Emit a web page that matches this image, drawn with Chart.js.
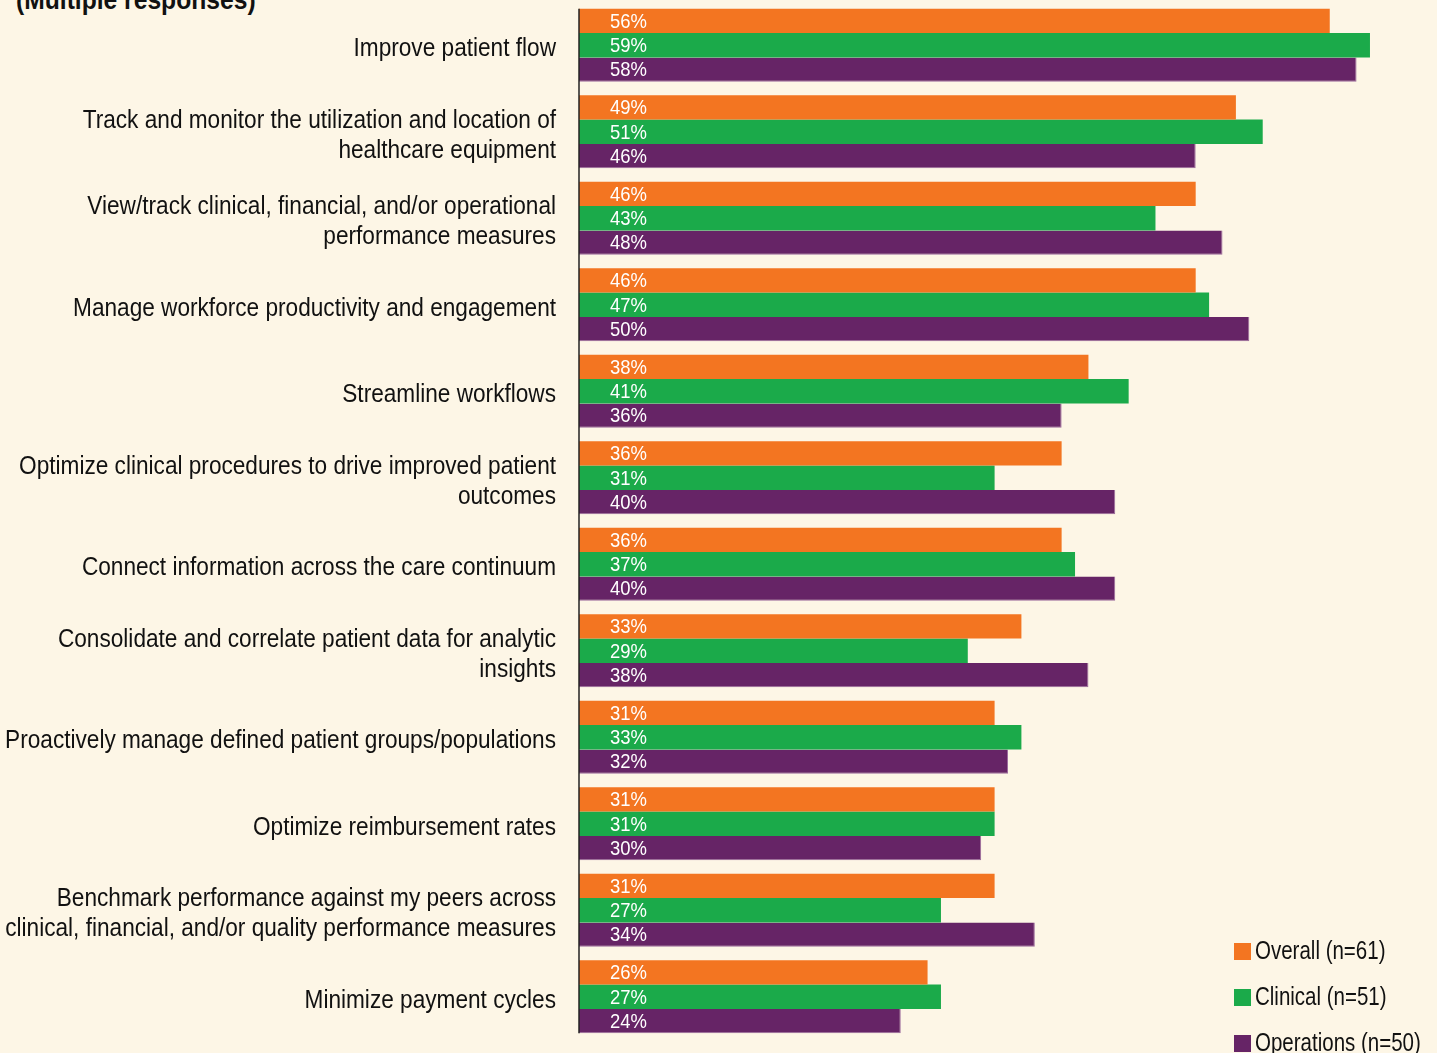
<!DOCTYPE html>
<html>
<head>
<meta charset="utf-8">
<script src="https://cdn.jsdelivr.net/npm/chart.js@4/dist/chart.umd.min.js"></script>
<style>
  html, body { margin: 0; padding: 0; background: #fdf6e6; }
  #wrap { position: relative; width: 1437px; height: 1053px; overflow: hidden; }
  #title {
    position: absolute; left: 16px; top: -16px; line-height: 27px;
    font: bold 28px 'Liberation Sans', Arial, sans-serif;
    color: #111; white-space: nowrap;
    transform: scaleX(0.88); transform-origin: left top;
  }
  canvas { position: absolute; left: 0; top: 0; }
</style>
</head>
<body>
<div id="wrap">
  <div id="title">(Multiple responses)</div>
  <canvas id="chart" width="1437" height="1053"></canvas>
</div>
<script>
// categories (multi-line labels)
var categories = [
    ['Improve patient flow'],
    ['Track and monitor the utilization and location of', 'healthcare equipment'],
    ['View/track clinical, financial, and/or operational', 'performance measures'],
    ['Manage workforce productivity and engagement'],
    ['Streamline workflows'],
    ['Optimize clinical procedures to drive improved patient', 'outcomes'],
    ['Connect information across the care continuum'],
    ['Consolidate and correlate patient data for analytic', 'insights'],
    ['Proactively manage defined patient groups/populations'],
    ['Optimize reimbursement rates'],
    ['Benchmark performance against my peers across', 'clinical, financial, and/or quality performance measures'],
    ['Minimize payment cycles']
];

var seriesNames = ['Overall (n=61)', 'Clinical (n=51)', 'Operations (n=50)'];
var overall    = [56, 49, 46, 46, 38, 36, 36, 33, 31, 31, 31, 26];
var clinical   = [59, 51, 43, 47, 41, 31, 37, 29, 33, 31, 27, 27];
var operations = [58, 46, 48, 50, 36, 40, 40, 38, 32, 30, 34, 24];

var colors = ['#f37521', '#1baa4a', '#662466'];
var FONT = "'Liberation Sans', Arial, sans-serif";

// condensed look: draw text squeezed horizontally
function narrowText(ctx, text, x, y, sx, align) {
    ctx.save();
    ctx.translate(x, y);
    ctx.scale(sx, 1);
    ctx.textAlign = align;
    ctx.fillText(text, 0, 0);
    ctx.restore();
}

// category labels, placed with the y scale
var categoryLabels = {
    id: 'categoryLabels',
    afterDraw: function(chart) {
        var ctx = chart.ctx;
        var yScale = chart.scales.y;
        ctx.save();
        ctx.fillStyle = '#111';
        ctx.font = '25px ' + FONT;
        ctx.textBaseline = 'middle';
        chart.data.labels.forEach(function(lines, i) {
            var cy = yScale.getPixelForValue(i) + 4;
            var y0 = cy - (lines.length - 1) * 15;
            lines.forEach(function(line, k) {
                narrowText(ctx, line, 556, y0 + k * 30, 0.905, 'right');
            });
        });
        ctx.restore();
    }
};

// vertical axis line spanning only the bars
var axisLine = {
    id: 'axisLine',
    afterDatasetsDraw: function(chart) {
        var first = chart.getDatasetMeta(0).data[0];
        var lastMeta = chart.getDatasetMeta(chart.data.datasets.length - 1);
        var last = lastMeta.data[lastMeta.data.length - 1];
        var ctx = chart.ctx;
        var x = chart.chartArea.left;
        ctx.save();
        ctx.strokeStyle = '#222';
        ctx.lineWidth = 1.5;
        ctx.beginPath();
        ctx.moveTo(x, first.y - first.height / 2);
        ctx.lineTo(x, last.y + last.height / 2);
        ctx.stroke();
        ctx.restore();
    }
};

// value labels inside the bars
var valueLabels = {
    id: 'valueLabels',
    afterDatasetsDraw: function(chart) {
        var ctx = chart.ctx;
        ctx.save();
        ctx.fillStyle = '#ffffff';
        ctx.font = '21px ' + FONT;
        ctx.textBaseline = 'middle';
        chart.data.datasets.forEach(function(ds, i) {
            var meta = chart.getDatasetMeta(i);
            meta.data.forEach(function(bar, j) {
                narrowText(ctx, ds.data[j] + '%', chart.chartArea.left + 31, bar.y + 1, 0.88, 'left');
            });
        });
        ctx.restore();
    }
};

// legend in the lower right corner
var cornerLegend = {
    id: 'cornerLegend',
    afterDraw: function(chart) {
        var ctx = chart.ctx;
        ctx.save();
        ctx.font = '25px ' + FONT;
        ctx.textBaseline = 'middle';
        chart.data.datasets.forEach(function(ds, i) {
            var y = 951 + i * 46;
            ctx.fillStyle = ds.backgroundColor;
            ctx.fillRect(1234, y - 8, 17, 17);
            ctx.fillStyle = '#111';
            narrowText(ctx, ds.label, 1255, y + 1, 0.82, 'left');
        });
        ctx.restore();
    }
};

var ctx = document.getElementById('chart').getContext('2d');
var chart = new Chart(ctx, {
    type: 'bar',
    data: {
        labels: categories,
        datasets: [
            { label: seriesNames[0], data: overall, backgroundColor: colors[0] },
            { label: seriesNames[1], data: clinical, backgroundColor: colors[1] },
            { label: seriesNames[2], data: operations, backgroundColor: colors[2],
              borderColor: '#9c6a9c', borderWidth: { top: 0, left: 0, right: 1, bottom: 1 } }
        ]
    },
    options: {
        indexAxis: 'y',
        responsive: false,
        animation: false,
        layout: { padding: { top: 2, bottom: 13, right: 0, left: 0 } },
        datasets: {
            bar: { categoryPercentage: 0.844, barPercentage: 1.0 }
        },
        scales: {
            x: {
                display: false,
                min: 0,
                max: 64
            },
            y: {
                afterFit: function(scale) {
                    scale.width = 579;
                    scale.paddingTop = 0;
                    scale.paddingBottom = 0;
                },
                grid: { display: false, drawTicks: false },
                border: { display: false },
                ticks: { display: false }
            }
        },
        plugins: {
            legend: { display: false },
            tooltip: { enabled: false }
        }
    },
    plugins: [valueLabels, axisLine, categoryLabels, cornerLegend]
});
</script>
</body>
</html>
